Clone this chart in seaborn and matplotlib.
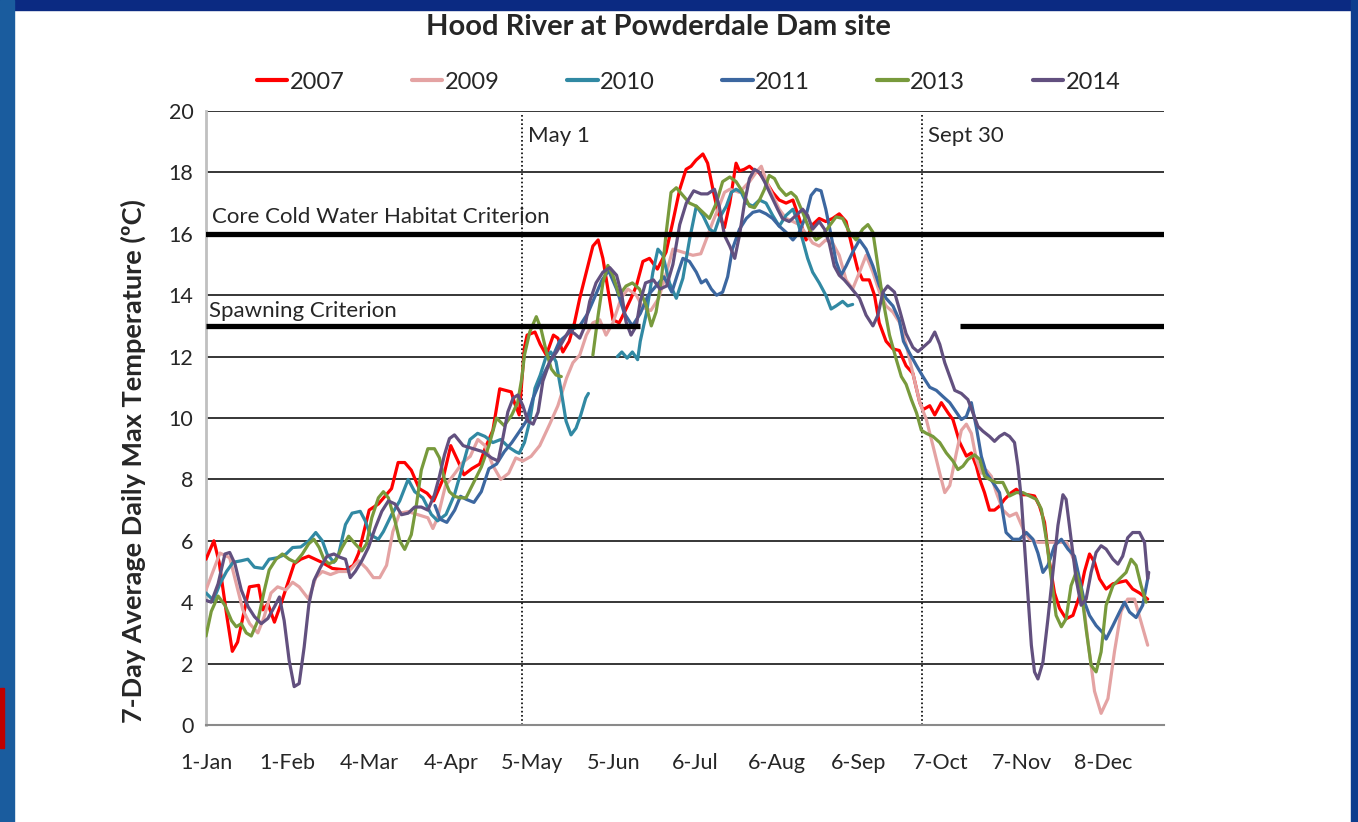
import matplotlib.pyplot as plt
from matplotlib.patches import Rectangle
import numpy as np
import pandas as pd
import seaborn as sns

nan = np.nan

# day of year (0 = 1-Jan) and 7-day average daily max temperature (deg C)
days_2007 = [0, 3, 5, 8, 10, 12, 14, 16.5, 20, 21.6, 23.5, 26, 28.5, 31, 33.5, 36, 39, 44, 48, 53, 56, 58, 60, 62,
             65.5, 70.5, 73, 75.5, 78, 81, 84, 86.5, 90, 93, 96, 98, 101, 104, 106, 109, 111.6, 116, 117.2, 119, 121,
             122, 125, 127, 129.3, 132, 133.7, 135.6, 138, 140, 142, 144.5, 147, 149, 150.8, 152.7, 154.6, 157, 159.6,
             161.5, 163.5, 166, 168.5, 171.5, 174.8, 177.4, 180, 182.4, 184.3, 186.2, 188.8, 190.6, 192.6, 194.5, 197,
             199, 201.4, 202.7, 204.5, 206.5, 208.4, 210, 212.8, 215.3, 217.8, 220.4, 223, 225.4, 228, 230.5, 233,
             235.5, 238.1, 240.6, 243.2, 245.7, 247.6, 249.5, 252, 254, 255.8, 258.4, 261, 263.4, 266, 268.6, 271.2,
             272.4, 275, 276.9, 279.4, 282, 283.8, 286.4, 288.9, 290.8, 292.7, 294, 295.8, 297.7, 299.6, 301.5, 303.4,
             306, 307.9, 309.8, 312.3, 314.8, 316.7, 318.6, 320.5, 322.4, 324.3, 326.8, 329.4, 331.9, 333.8, 335.7,
             337.6, 339.5, 342, 344.6, 347.1, 349.6, 352.1, 354.7, 357.8]
temp_2007 = [5.4, 6.0, 5.3, 3.5, 2.4, 2.7, 3.5, 4.5, 4.55, 3.75, 3.95, 3.35, 3.95, 4.6, 5.25, 5.4, 5.5, 5.3, 5.1, 5.05,
             5.2, 5.6, 6.3, 7.0, 7.2, 7.7, 8.55, 8.55, 8.3, 7.7, 7.55, 7.3, 8.0, 9.1, 8.55, 8.15, 8.35, 8.5, 9.0, 9.6,
             10.95, 10.85, 10.5, 10.1, 12.3, 12.7, 12.8, 12.4, 12.05, 12.7, 12.6, 12.15, 12.5, 13.1, 13.9, 14.75, 15.6,
             15.8, 15.2, 14.2, 13.2, 13.1, 13.55, 13.9, 14.3, 15.1, 15.2, 14.85, 15.4, 16.4, 17.45, 18.1, 18.2, 18.4,
             18.6, 18.3, 17.45, 16.7, 16.2, 17.0, 18.3, 18.05, 18.1, 18.2, 18.05, 18.0, 17.7, 17.35, 17.1, 17.0, 17.1,
             16.5, 15.8, 16.3, 16.5, 16.4, 16.5, 16.65, 16.4, 15.5, 14.85, 14.5, 14.5, 14.0, 13.1, 12.5, 12.25, 12.2,
             11.7, 11.45, 10.5, 10.27, 10.4, 10.1, 10.5, 10.16, 9.95, 9.2, 8.76, 8.86, 8.43, 8.0, 7.57, 7.0, 7.0, 7.13,
             7.35, 7.57, 7.68, 7.5, 7.5, 7.46, 7.13, 6.6, 5.3, 4.3, 3.8, 3.46, 3.57, 4.2, 5.0, 5.57, 5.3, 4.76, 4.43,
             4.6, 4.65, 4.7, 4.43, 4.3, 4.1]

days_2009 = [0, 5.3, 9, 11.5, 14, 16.6, 19.7, 22, 24.7, 27.2, 30.4, 32.9, 35.4, 39, 41.7, 44.2, 47.3, 50.4, 54.2, 58,
             61, 63.6, 66, 68.6, 71, 73.6, 76.8, 80.5, 84.3, 86.2, 88, 91, 94.6, 97.5, 100.4, 103.3, 106, 109, 112,
             115, 117.7, 120.4, 123.5, 126.8, 130.6, 133.7, 137, 139.4, 142, 144.5, 147, 149.6, 152, 154.6, 157.7,
             160.3, 163.5, 166, 169, 172, 174.5, 177.4, 181.2, 185, 188, 190, 192.6, 195, 197, 199, 202.7, 206.5, 209,
             211, 213, 215.3, 217.8, 220.4, 223, 225.4, 228, 230.5, 233, 235.5, 238.1, 240.6, 243.2, 245.7, 248.3,
             250.8, 253.4, 255.9, 258.4, 261, 263.6, 266, 268.6, 271.2, 273.7, 276.2, 278.8, 280.7, 282.6, 285.1, 287,
             288.9, 290.8, 292.7, 294.6, 296.5, 298.4, 300.3, 302.8, 305.3, 307.9, 310.4, 312.9, 316.1, 321.8, 327,
             330.6, 333.2, 335, 337.6, 340.1, 342.7, 345.2, 347.7, 350.2, 352.8, 355.3, 357.8]
temp_2009 = [4.4, 5.6, 5.45, 4.6, 3.75, 3.3, 3.0, 3.5, 4.3, 4.5, 4.4, 4.65, 4.5, 4.1, 4.8, 5.0, 4.9, 5.0, 5.0, 5.35,
             5.1, 4.8, 4.8, 5.2, 6.3, 6.9, 6.95, 6.85, 6.75, 6.4, 6.75, 7.8, 8.2, 8.55, 8.75, 9.3, 9.1, 8.45, 8.0, 8.2,
             8.7, 8.6, 8.75, 9.1, 9.8, 10.4, 11.3, 11.8, 12.05, 12.7, 13.1, 13.2, 12.7, 13.1, 13.9, 14.2, 14.0, 13.6,
             13.5, 13.9, 14.6, 15.5, 15.4, 15.3, 15.35, 15.8, 16.4, 16.9, 17.35, 17.45, 17.35, 17.7, 18.0, 18.2, 17.7,
             17.25, 16.8, 16.5, 16.4, 16.3, 16.0, 15.7, 15.6, 15.8, 15.7, 15.3, 14.5, 14.2, 14.75, 15.3, 14.75, 14.1,
             13.65, 13.45, 13.1, 12.4, 11.45, 10.5, 9.95, 9.1, 8.2, 7.57, 7.8, 8.86, 9.6, 9.8, 9.5, 8.65, 8.2, 8.3, 8.1,
             7.57, 7.0, 6.8, 6.9, 6.4, 6.05, 5.95, 5.95, 5.95, 5.2, 4.1, 2.8, 1.1, 0.38, 0.86, 2.4, 3.7, 4.1, 4.1, 3.35,
             2.6]

days_2010 = [0, 2.8, 5.3, 7.8, 10.3, 13.4, 15.9, 18.4, 21.6, 24, 27.2, 30.4, 32.9, 36, 39.1, 41.7, 44.2, 46, 48.6,
             50.4, 53, 55.5, 58.6, 60.5, 62.4, 65.5, 67.4, 70.5, 73.6, 76.8, 79.3, 82.4, 85.6, 88, 91.2, 94.4, 97.4,
             100.3, 103.2, 106, 109, 112, 115, 117.7, 119, 121, 123, 125, 127, 129, 131, 133, 135, 136.8, 138.7, 140.6,
             142.4, 144.3, 145.3, 150, 156.3, 158, 160, 162, 164, 165, 167.3, 169.8, 171.7, 173.6, 176.1, 178.7, 181.2,
             183.7, 186.3, 188.8, 191.3, 193.2, 195, 197.7, 199.6, 201.4, 203.4, 205.3, 207.8, 210.3, 212.8, 215.3,
             217.8, 220.4, 223, 224.8, 226.7, 228.6, 230.5, 233, 235.5, 237.5, 239.4, 241.9, 243.8, 245.7]
temp_2010 = [4.3, 4.06, 4.6, 5.0, 5.3, 5.35, 5.4, 5.14, 5.1, 5.4, 5.45, 5.57, 5.78, 5.8, 6.0, 6.27, 6.0, 5.57, 5.3,
             5.57, 6.53, 6.9, 6.96, 6.65, 6.2, 6.05, 6.3, 6.85, 7.3, 8.0, 7.6, 7.4, 6.86, 6.65, 6.86, 7.5, 8.4, 9.3,
             9.5, 9.4, 9.2, 9.3, 9.05, 8.9, 8.85, 9.2, 9.9, 10.97, 11.4, 11.94, 12.15, 11.83, 10.86, 9.9, 9.45, 9.67,
             10.1, 10.65, 10.8, nan, 12.0, 12.15, 11.95, 12.15, 11.9, 12.5, 13.4, 14.75, 15.5, 15.3, 14.4, 13.9, 14.55,
             15.8, 16.9, 16.6, 16.15, 16.05, 16.5, 16.9, 17.35, 17.45, 17.35, 17.0, 16.9, 17.1, 17.0, 16.6, 16.25,
             16.6, 16.8, 16.4, 15.8, 15.2, 14.75, 14.4, 14.0, 13.55, 13.65, 13.8, 13.65, 13.7]

days_2011 = [87, 89, 91.5, 94.5, 96.7, 98.9, 101.8, 104.6, 107.5, 110.4, 113.3, 116.2, 119, 121.7, 124.3, 127, 129.3,
             132, 134.3, 137, 139.4, 142, 145, 148, 150.5, 153, 156, 159, 162, 165, 168, 171, 174, 177, 179.4, 181.2,
             183.7, 186.3, 188.2, 190, 192, 194, 196.3, 198.2, 200, 202.7, 205.3, 207.8, 210.3, 212.8, 215.3, 217.8,
             220.4, 223, 225.4, 228, 229.9, 231.8, 233.7, 235.5, 237.5, 239.4, 241.3, 243.2, 245.7, 248.3, 250.8,
             253.4, 255.9, 258.4, 261, 263.4, 265, 267.4, 270, 272.4, 275, 277.5, 280, 282.6, 285, 287, 288.9, 290.8,
             292.7, 294.6, 296.5, 299, 301.5, 304, 306.6, 309.1, 311.7, 314.2, 316.1, 318, 319.9, 322.4, 325, 327.5,
             330, 331.9, 333.8, 335.7, 338.2, 340.8, 342, 344.6, 347.1, 349, 350.9, 353.4, 355.9, 357.8]
temp_2011 = [7.15, 6.7, 6.6, 7.0, 7.45, 7.35, 7.25, 7.6, 8.35, 8.5, 8.9, 9.2, 9.55, 9.9, 10.65, 11.2, 11.6, 12.05,
             12.5, 12.7, 12.9, 13.0, 13.4, 14.0, 14.5, 14.8, 14.2, 13.4, 13.0, 13.4, 14.0, 14.3, 14.6, 14.1, 14.75,
             15.2, 15.1, 14.75, 14.4, 14.5, 14.2, 14.0, 14.1, 14.6, 15.5, 16.15, 16.5, 16.7, 16.75, 16.65, 16.5, 16.25,
             16.05, 15.8, 16.05, 16.6, 17.25, 17.45, 17.4, 16.8, 15.95, 15.1, 14.65, 14.95, 15.4, 15.8, 15.5, 14.95,
             14.3, 13.9, 13.65, 13.2, 12.5, 12.1, 11.7, 11.35, 11.0, 10.9, 10.7, 10.5, 10.2, 9.95, 10.05, 10.5, 9.7,
             8.75, 8.2, 7.9, 7.57, 6.27, 6.05, 6.05, 6.27, 6.05, 5.6, 4.97, 5.2, 5.84, 6.05, 5.73, 5.5, 4.76, 4.0,
             3.57, 3.24, 3.0, 2.8, 3.24, 3.68, 4.0, 3.68, 3.5, 3.9, 4.76]

days_2013 = [0, 2, 4.6, 7.2, 9.7, 11.5, 13.4, 15.3, 17.2, 19.7, 22.2, 24, 26.6, 29, 31.6, 34, 36.6, 39, 41, 43, 44.8,
             46.7, 49.2, 51.7, 54.2, 56.7, 59.2, 61, 63, 65.5, 67.4, 69.3, 71.8, 73.6, 75.5, 78, 80, 81.8, 84.3, 86.8,
             88.7, 90.6, 92.5, 94.4, 96.5, 98.8, 101.7, 104.6, 107.5, 110.4, 113.3, 116.2, 118.4, 120, 121, 123, 125.5,
             127.3, 129.3, 131.2, 133, 135, 140, 147, 149, 150.8, 152.7, 154.6, 157, 159.6, 162, 164.7, 167.3, 169.2,
             171, 173, 174.8, 176.7, 178.7, 181.2, 183.7, 186.3, 188.8, 191.3, 193.9, 196.3, 199, 201.4, 204, 206.5,
             208.4, 210.3, 212.2, 214, 216, 217.8, 220.4, 222.3, 224.2, 226.7, 229.2, 231.8, 234.3, 236.8, 239.4,
             241.9, 244.5, 247, 249.5, 251.5, 253.4, 255.3, 257.2, 259.7, 262.3, 264.2, 266, 268, 270, 271.8, 273.7,
             276.2, 278.8, 281.3, 283.8, 285.7, 287.6, 289.5, 292, 294, 295.8, 297.7, 300.3, 302.8, 305.3, 307.9,
             310.4, 312.9, 315.5, 317.4, 319.3, 321.2, 323, 325, 326.8, 328.7, 330.6, 332.5, 334.4, 336.3, 338.2,
             340.1, 342, 344.6, 347.1, 349.6, 351.5, 353.4, 355.3, 357.2]
temp_2013 = [2.9, 3.7, 4.2, 3.9, 3.4, 3.2, 3.3, 3.0, 2.9, 3.4, 4.4, 5.05, 5.4, 5.57, 5.4, 5.3, 5.57, 5.9, 6.05, 5.78,
             5.4, 5.25, 5.35, 5.78, 6.15, 5.9, 5.67, 5.9, 6.75, 7.4, 7.6, 7.4, 6.65, 6.0, 5.72, 6.2, 7.2, 8.3, 9.0, 9.0,
             8.7, 8.0, 7.6, 7.45, 7.4, 7.4, 7.9, 8.4, 9.1, 10.0, 9.75, 10.1, 10.5, 11.3, 12.05, 12.8, 13.3, 12.9,
             12.16, 11.6, 11.4, 11.35, nan, 12.05, 13.35, 14.4, 14.97, 14.65, 14.0, 14.3, 14.4, 14.2, 13.65, 13.0,
             13.45, 14.5, 16.0, 17.35, 17.5, 17.25, 17.0, 16.9, 16.7, 16.5, 17.0, 17.7, 17.85, 17.7, 17.35, 16.9,
             16.85, 17.1, 17.45, 17.9, 17.8, 17.5, 17.25, 17.35, 17.2, 16.7, 16.15, 15.8, 15.95, 16.25, 16.55, 16.5,
             16.05, 15.8, 16.15, 16.3, 16.05, 14.95, 13.85, 12.7, 11.9, 11.35, 11.1, 10.6, 10.16, 9.6, 9.5, 9.4, 9.2,
             8.86, 8.6, 8.32, 8.43, 8.65, 8.8, 8.65, 8.1, 8.0, 7.9, 7.9, 7.46, 7.57, 7.57, 7.46, 7.35, 7.03, 6.05,
             4.76, 3.57, 3.2, 3.46, 4.54, 4.97, 4.43, 3.13, 1.95, 1.73, 2.38, 3.9, 4.54, 4.76, 4.97, 5.4, 5.2, 4.54,
             4.0]

days_2014 = [0, 2, 4.6, 7.2, 9, 11, 13.4, 16, 18.4, 21, 23.5, 26, 27.9, 29.7, 31.6, 33.5, 35.4, 37.3, 39.1, 41, 43.5,
             46, 48.6, 51, 53, 54.8, 56.7, 59.2, 61.7, 64.2, 66.8, 69.3, 71.8, 74.3, 76.8, 79.3, 81.8, 84.3, 86.8,
             88.7, 90.6, 92.5, 94.4, 97.7, 101.5, 105.3, 108.5, 111, 112.8, 114.7, 116.7, 118.5, 120.4, 122.3, 124.3,
             126.2, 128, 130.6, 133.2, 135.6, 138, 140, 142, 144, 145.8, 148.2, 150.8, 153.4, 156, 158, 159.6, 161.5,
             163.5, 165, 167, 170, 172.5, 175, 177.4, 180, 182.5, 185.3, 188.1, 190.6, 193.2, 195, 197, 199, 200.9,
             202.7, 204.6, 206.5, 208.4, 210.3, 212.2, 214.7, 217.2, 219, 221.6, 224.2, 226.7, 228.6, 230.5, 233, 235,
             236.8, 238.7, 240.6, 242.5, 244.5, 246.4, 248.3, 250.8, 253.4, 255.3, 257.2, 259, 261.6, 263.6, 266,
             268.6, 270.5, 272.4, 275, 276.9, 278.8, 280.7, 282.6, 284.5, 287, 289.5, 291.4, 293.3, 295.2, 297.7,
             299.6, 301.5, 303.4, 305.3, 307.2, 308.5, 309.8, 311, 312.3, 313.6, 314.8, 316.1, 318, 319.9, 321.8,
             323.7, 325.6, 326.8, 328.7, 330.6, 332.5, 334.4, 336.3, 338.2, 340.1, 342, 344.6, 346.5, 348.3, 350.2,
             352.1, 354.7, 356.6, 357.8, 358.2]
temp_2014 = [4.06, 4.0, 4.6, 5.57, 5.62, 5.25, 4.4, 3.85, 3.53, 3.3, 3.47, 3.85, 4.17, 3.4, 2.1, 1.25, 1.35, 2.54,
             3.94, 4.7, 5.14, 5.5, 5.57, 5.46, 5.4, 4.8, 5.0, 5.35, 5.78, 6.4, 6.96, 7.3, 7.2, 6.85, 6.9, 7.1, 7.1, 7.0,
             7.5, 8.1, 8.8, 9.33, 9.45, 9.1, 9.0, 8.9, 8.7, 8.6, 9.35, 10.2, 10.65, 10.75, 10.4, 9.9, 9.8, 10.2, 11.2,
             11.83, 12.15, 12.5, 12.86, 12.75, 12.6, 13.0, 13.8, 14.4, 14.75, 14.9, 14.65, 14.0, 13.13, 12.7, 13.0,
             13.8, 14.4, 14.5, 14.2, 14.3, 15.0, 16.3, 17.0, 17.4, 17.3, 17.3, 17.45, 16.9, 15.95, 15.6, 15.2, 15.95,
             17.0, 17.8, 18.1, 18.0, 17.7, 17.25, 16.8, 16.5, 16.4, 16.6, 16.8, 16.6, 16.15, 16.4, 16.15, 15.7, 14.95,
             14.65, 14.5, 14.3, 14.1, 13.9, 13.35, 13.0, 13.35, 14.1, 14.3, 14.1, 13.5, 12.75, 12.3, 12.16, 12.3, 12.5,
             12.8, 12.4, 11.8, 11.35, 10.9, 10.8, 10.6, 10.16, 9.73, 9.57, 9.4, 9.24, 9.4, 9.5, 9.4, 9.2, 8.43, 7.35,
             5.84, 4.22, 2.6, 1.73, 1.5, 2.05, 3.46, 4.97, 6.5, 7.5, 7.35, 6.05, 4.76, 3.9, 4.1, 4.97, 5.62, 5.84, 5.73,
             5.4, 5.24, 5.5, 6.1, 6.27, 6.27, 5.95, 4.76, 4.97]

years = ["2007", "2009", "2010", "2011", "2013", "2014"]
all_days = [days_2007, days_2009, days_2010, days_2011, days_2013, days_2014]
all_temps = [temp_2007, temp_2009, temp_2010, temp_2011, temp_2013, temp_2014]
colors = ["#ff0000", "#e4a3a3", "#3189a3", "#3c67a0", "#789a3c", "#62507f"]

tick_days = [0, 31, 62, 93, 124, 155, 186, 217, 248, 279, 310, 341]
tick_labels = ["1-Jan", "1-Feb", "4-Mar", "4-Apr", "5-May", "5-Jun", "6-Jul", "6-Aug", "6-Sep", "7-Oct",
               "7-Nov", "8-Dec"]

may1, sept30 = 120, 272
core_cold = 16
spawning = 13
spawn_periods = [(0, 165), (286.4, 364)]

frames = []
for year, d, t in zip(years, all_days, all_temps):
    df = pd.DataFrame({"day": d, "temp": t})
    df["seg"] = df["temp"].isna().cumsum()
    df["year"] = year
    frames.append(df.dropna())
data = pd.concat(frames, ignore_index=True)
data["unit"] = data["year"] + "-" + data["seg"].astype(str)

sns.set_style("white")
plt.rcParams["font.family"] = ["Lato", "DejaVu Sans"]

fig = plt.figure(figsize=(13.58, 8.22), dpi=100)
fig.patch.set_facecolor("white")

# slide border
fig.add_artist(Rectangle((0, 1 - 10 / 822), 1, 10 / 822, transform=fig.transFigure, color="#0b2a82", zorder=0))
fig.add_artist(Rectangle((0, 0), 14 / 1358, 1, transform=fig.transFigure, color="#1a5c9e", zorder=0))
fig.add_artist(Rectangle((1 - 7 / 1358, 0), 7 / 1358, 1, transform=fig.transFigure, color="#0d3d8e", zorder=0))
fig.add_artist(Rectangle((0, 1 - 748 / 822), 4 / 1358, 60 / 822, transform=fig.transFigure, color="#c00000",
                         zorder=1))

ax = fig.add_axes([206 / 1358, 1 - 725 / 822, 958 / 1358, 614 / 822])

sns.lineplot(data=data, x="day", y="temp", hue="year", units="unit", estimator=None, sort=False,
             palette=dict(zip(years, colors)), hue_order=years, linewidth=2.3, ax=ax, zorder=3)

ax.set_xlim(0, 364)
ax.set_ylim(0, 20)
ax.set_yticks(range(0, 21, 2))
ax.set_xticks(tick_days)
ax.set_xticklabels(tick_labels)
ax.set_xlabel("")
ax.set_ylabel("7-Day Average Daily Max Temperature (ºC)", fontsize=19.5, fontweight="bold")
ax.yaxis.set_label_coords(-0.063, 0.43)
ax.yaxis.grid(True, color="black", linewidth=1.1)
ax.set_axisbelow(True)

for side in ("top", "right"):
    ax.spines[side].set_visible(False)
ax.spines["left"].set_color("#c0c0c0")
ax.spines["left"].set_linewidth(2)
ax.spines["bottom"].set_color("#8a8a8a")
ax.spines["bottom"].set_linewidth(1.5)
ax.tick_params(axis="x", direction="inout", length=14, width=1.3, color="black", labelsize=15.5, pad=13)
ax.tick_params(axis="y", direction="out", length=6, width=1.1, color="black", labelsize=15.5, pad=3)

# criteria and date markers
ax.axhline(core_cold, color="black", linewidth=3.8, zorder=4)
for start, end in spawn_periods:
    ax.plot([start, end], [spawning, spawning], color="black", linewidth=3.8, zorder=4,
            solid_capstyle="butt")
for d in (may1, sept30):
    ax.plot([d, d], [0, 19.9], color="black", linestyle=(0, (1, 1.5)), linewidth=1.2, zorder=2)

ax.text(2.3, 16.35, "Core Cold Water Habitat Criterion", fontsize=16)
ax.text(1.1, 13.3, "Spawning Criterion", fontsize=16)
ax.text(may1 + 2.2, 19.0, "May 1", fontsize=16)
ax.text(sept30 + 2.4, 19.0, "Sept 30", fontsize=16)

handles, labels = ax.get_legend_handles_labels()
ax.legend_.remove()
for h in handles:
    h.set_linewidth(3)
fig.legend(handles, labels, loc="center", ncol=6, frameon=False, bbox_to_anchor=(0.507, 0.9),
           fontsize=17, handlelength=1.3, handletextpad=0.1, columnspacing=2.85)

fig.text(0.4845, 0.967, "Hood River at Powderdale Dam site", ha="center", va="center", fontsize=21,
         fontweight="bold")

fig.savefig("out.png", dpi=100, facecolor=fig.get_facecolor())
